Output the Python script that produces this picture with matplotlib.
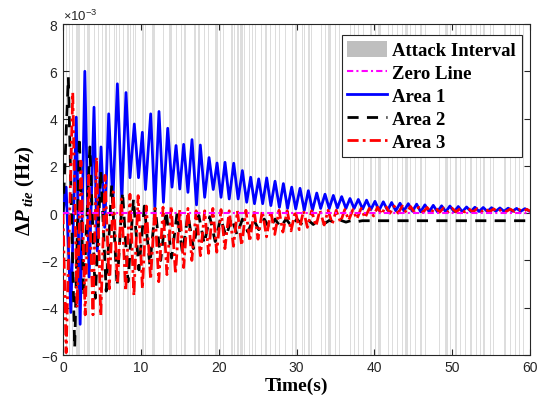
import matplotlib
matplotlib.use("Agg")
import matplotlib.pyplot as plt
from matplotlib.patches import Patch
from matplotlib.ticker import ScalarFormatter

plt.rcParams['mathtext.fontset'] = 'custom'
plt.rcParams['mathtext.rm'] = 'Liberation Serif:bold'
plt.rcParams['mathtext.it'] = 'Liberation Serif:italic:bold'
plt.rcParams['mathtext.bf'] = 'Liberation Serif:bold'

# attack intervals (start time, duration) in s
attack_start = [0.42, 0.81, 1.2, 1.7, 2.1, 2.74, 3.08, 3.38, 4.02, 4.54, 5.0, 5.4, 5.9, 6.5, 6.85,
                7.2, 7.67, 8.22, 8.65, 8.96, 9.3, 9.7, 10.15, 10.5, 11.0, 11.4, 11.7, 12.3, 12.9,
                13.3, 13.66, 14.1, 14.5, 14.85, 15.2, 15.6, 16.0, 16.4, 16.8, 17.4, 17.8, 18.15,
                18.6, 19.1, 19.5, 20.2, 20.5, 20.9, 21.3, 21.6, 22.0, 22.4, 22.8, 23.3, 23.9,
                24.3, 24.7, 25.4, 26.0, 26.6, 27.2, 27.8, 28.5, 29.0, 29.4, 29.8, 30.3, 30.7,
                30.9, 31.5, 31.9, 32.6, 33.2, 33.7, 34.1, 34.5, 35.0, 35.4, 36.2, 36.9, 37.4,
                37.9, 38.6, 39.0, 39.5, 40.1, 40.5, 41.2, 41.8, 42.3, 42.9, 43.5, 44.0, 44.6,
                45.2, 45.9, 46.5, 47.1, 47.6, 48.3, 49.1, 49.7, 50.4, 51.0, 51.7, 52.3, 53.0,
                53.6, 54.0, 54.9, 55.3, 55.7, 56.6, 57.0, 57.4, 58.1, 58.6, 59.1]
attack_len = [0.15, 0.1, 0.08, 0.3, 0.12, 0.1, 0.2, 0.1, 0.15, 0.1, 0.08, 0.3, 0.08, 0.2, 0.1,
              0.08, 0.15, 0.3, 0.1, 0.15, 0.1, 0.08, 0.2, 0.1, 0.08, 0.3, 0.15, 0.08, 0.1,
              0.08, 0.3, 0.08, 0.12, 0.1, 0.08, 0.15, 0.1, 0.08, 0.3, 0.2, 0.08, 0.1,
              0.15, 0.08, 0.4, 0.1, 0.15, 0.1, 0.08, 0.2, 0.08, 0.15, 0.3, 0.1, 0.15,
              0.08, 0.1, 0.2, 0.15, 0.1, 0.2, 0.08, 0.1, 0.08, 0.15, 0.3, 0.08, 0.1,
              0.15, 0.2, 0.1, 0.08, 0.08, 0.15, 0.3, 0.1, 0.08, 0.2, 0.08, 0.15, 0.08,
              0.1, 0.08, 0.08, 0.2, 0.08, 0.3, 0.08, 0.1, 0.08, 0.15, 0.2, 0.3, 0.08,
              0.1, 0.2, 0.15, 0.08, 0.1, 0.08, 0.3, 0.15, 0.2, 0.08, 0.1, 0.3, 0.15,
              0.1, 0.2, 0.15, 0.08, 0.1, 0.3, 0.08, 0.2, 0.15, 0.08, 0.1]

# Area 1 extrema (x1e-3)
t1 = [0, 0.4, 1.0, 1.7, 2.2, 2.8, 3.35, 3.98, 4.4, 4.88, 5.35, 5.87, 6.4, 6.98, 7.55, 8.09,
      8.6, 9.16, 9.7, 10.19, 10.6, 11.26, 11.8, 12.33, 12.9, 13.45, 14.0, 14.52, 15.0, 15.5,
      16.05, 16.57, 17.15, 17.64, 18.2, 18.76, 19.3, 19.79, 20.3, 20.81, 21.35, 21.93, 22.5,
      23.04, 23.6, 24.11, 24.6, 25.14, 25.65, 26.17, 26.7, 27.24, 27.8, 28.31, 28.85, 29.38,
      29.9, 30.45, 31.0, 31.52, 32.05, 32.6, 33.1, 33.66, 34.2, 34.73, 35.25, 35.8, 36.35,
      36.87, 37.4, 37.94, 38.5, 39.0, 39.55, 40.08, 40.6, 41.15, 41.7, 42.22, 42.75, 43.3,
      43.8, 44.36, 44.9, 45.43, 45.95, 46.5, 47.04, 47.57, 48.1, 48.64, 49.17, 49.71, 50.25,
      50.78, 51.3, 51.85, 52.4, 52.92, 53.45, 53.99, 54.5, 55.06, 55.6, 56.13, 56.65, 57.2,
      57.75, 58.27, 58.8, 59.34, 59.9]
area1 = [0, 1.1, -4.2, 4.06, -4.7, 6.0, -2.7, 4.48, -1.6, 2.8, -0.6, 4.2, 0.45, 5.47, 0.6, 5.1,
         1.5, 3.77, 1.5, 3.42, 1.0, 4.2, 0.25, 4.3, 0.46, 3.59, 1.1, 2.86, 1.02, 2.91,
         0.88, 3.11, 0.35, 2.88, 0.67, 2.35, 1.0, 2.12, 0.67, 2.15, 0.6, 2.11, 0.6,
         1.8, 0.46, 1.52, 0.4, 1.45, 0.4, 1.49, 0.32, 1.35, 0.25, 1.25, 0.2, 1.1,
         0.18, 1.05, 0.12, 0.95, 0.12, 0.85, 0.2, 0.8, 0.2, 0.75, 0.22, 0.7, 0.2,
         0.62, 0.2, 0.58, 0.18, 0.55, 0.15, 0.5, 0.12, 0.48, 0.12, 0.45, 0.1, 0.42,
         0.1, 0.4, 0.08, 0.38, 0.06, 0.35, 0.06, 0.33, 0.06, 0.31, 0.06, 0.3, 0.06,
         0.28, 0.06, 0.26, 0.07, 0.25, 0.07, 0.24, 0.07, 0.23, 0.08, 0.22, 0.08, 0.21,
         0.08, 0.2, 0.08, 0.19, 0.09]

# Area 2 extrema (x1e-3)
t2 = [0, 0.68, 1.5, 2.1, 2.65, 3.45, 4.15, 4.85, 5.55, 6.25, 6.95, 7.65, 8.35, 9.05, 9.75,
      10.45, 11.15, 11.85, 12.55, 13.25, 13.95, 14.65, 15.35, 16.05, 16.75, 17.45, 18.15,
      18.85, 19.55, 20.25, 20.95, 21.65, 22.35, 23.05, 23.75, 24.45, 25.15, 25.85, 26.55,
      27.25, 27.95, 28.65, 29.35, 30.05, 30.75, 31.45, 32.15, 32.85, 33.55, 34.25, 34.95,
      35.65, 36.35, 37.05, 37.75, 38.45, 60]
area2 = [0, 5.75, -5.7, 3.2, -3.5, 2.8, -3.6, 1.8, -3.3, 1.2, -3.1, 0.9, -2.9, 0.6, -2.4,
         0.3, -2.2, 0.2, -2.0, 0.1, -1.9, 0.0, -1.7, -0.05, -1.5, -0.1, -1.3,
         -0.15, -1.2, -0.2, -1.0, -0.2, -0.9, -0.25, -0.8, -0.25, -0.7, -0.25, -0.65,
         -0.25, -0.6, -0.25, -0.55, -0.25, -0.5, -0.28, -0.48, -0.28, -0.45, -0.3, -0.42,
         -0.3, -0.38, -0.31, -0.36, -0.32, -0.32]

# Area 3 extrema (x1e-3)
t3 = [0, 0.4, 1.25, 1.8, 2.3, 2.85, 3.3, 3.85, 4.3, 4.85, 5.4, 5.95, 6.45, 7.0, 7.5, 8.05,
      8.6, 9.1, 9.65, 10.2, 10.7, 11.25, 11.8, 12.3, 12.85, 13.35, 13.9, 14.45, 15.0, 15.5,
      16.05, 16.55, 17.1, 17.65, 18.2, 18.7, 19.25, 19.75, 20.3, 20.8, 21.35, 21.9, 22.4,
      22.95, 23.5, 24.0, 24.55, 25.05, 25.6, 26.15, 26.7, 27.2, 27.75, 28.25, 28.8, 29.3,
      29.85, 30.35, 30.9, 31.4, 31.95, 32.5, 33.0, 33.55, 34.05, 34.6, 35.1, 35.65, 36.2,
      36.7, 37.25, 37.75, 38.3, 38.8, 39.35, 39.9, 40.4, 40.95, 41.45, 42.0, 42.55, 43.05,
      43.6, 44.1, 44.65, 45.15, 45.7, 46.25, 46.78, 47.3, 47.85, 48.38, 48.9, 49.45, 49.98,
      50.5, 51.05, 51.58, 52.1, 52.65, 53.2, 53.72, 54.25, 54.8, 55.33, 55.85, 56.4, 56.93,
      57.45, 58.0, 58.53, 59.06, 59.6, 60]
area3 = [0, -5.9, 5.1, -4.0, 2.2, -4.3, 1.6, -4.3, 2.36, -4.34, 1.6, -3.2, 0.9, -3.0, 0.6, -3.3,
         0.8, -3.49, 0.74, -3.2, 0.3, -2.8, 0.2, -2.9, 0.25, -2.6, 0.3, -2.57, 0.15, -2.3,
         0.2, -2.0, 0.1, -1.8, 0.1, -1.7, 0.2, -1.65, 0.15, -1.5, 0.1, -1.4, 0.1,
         -1.37, 0.12, -1.2, 0.1, -1.1, 0.1, -1.0, 0.1, -0.9, 0.12, -0.8, 0.1, -0.75,
         0.1, -0.7, 0.1, -0.6, 0.1, -0.55, 0.12, -0.5, 0.12, -0.45, 0.12, -0.38, 0.15,
         -0.3, 0.15, -0.25, 0.2, -0.2, 0.2, -0.12, 0.25, -0.05, 0.3, 0.0, 0.3, 0.0,
         0.3, 0.02, 0.28, 0.03, 0.25, 0.03, 0.24, 0.03, 0.23, 0.04, 0.22, 0.04, 0.21,
         0.05, 0.2, 0.05, 0.19, 0.05, 0.19, 0.06, 0.18, 0.06, 0.18, 0.06, 0.17, 0.07,
         0.17, 0.07, 0.16, 0.07, 0.16, 0.08]

x_ticks = [0, 10, 20, 30, 40, 50, 60]
y_ticks = [-6, -4, -2, 0, 2, 4, 6, 8]

fig = plt.figure(figsize=(5.41, 4.02), dpi=100)
ax = fig.add_axes([0.1165, 0.1144, 0.8632, 0.8234])

for s, d in zip(attack_start, attack_len):
	ax.axvspan(s, s + d, color='#bdbdbd', alpha=0.5, lw=0, zorder=1)

ax.plot(t1, [v*1e-3 for v in area1], color='#0000ff', lw=2, zorder=3)
ax.plot(t2, [v*1e-3 for v in area2], color='black', lw=2, ls=(0, (4, 3)), zorder=4)
ax.plot(t3, [v*1e-3 for v in area3], color='#ff0000', lw=2, ls=(0, (4, 1.5, 1, 1.5)), zorder=5)
ax.plot([0, 60], [0, 0], color='#ff00ff', lw=1.5, ls=(0, (3, 1.5, 1, 1.5)), zorder=6)

ax.set_xlim(0, 60)
ax.set_ylim(-6e-3, 8e-3)
ax.set_xticks(x_ticks)
ax.set_yticks([v*1e-3 for v in y_ticks])
fmt = ScalarFormatter(useMathText=True)
fmt.set_powerlimits((-3, -3))
ax.yaxis.set_major_formatter(fmt)
ax.yaxis.get_offset_text().set_fontsize(9.5)
ax.yaxis.get_offset_text().set_color('#262626')
ax.yaxis.get_offset_text().set_family('Liberation Sans')

ax.tick_params(direction='in', top=True, right=True, length=4, width=0.8,
               labelsize=10, colors='#262626')
for lab in ax.get_xticklabels() + ax.get_yticklabels():
	lab.set_family('Liberation Sans')
for sp in ax.spines.values():
	sp.set_color('#262626')
	sp.set_linewidth(0.8)

ax.set_xlabel('Time(s)', fontfamily='Liberation Serif', fontweight='bold', fontsize=14, labelpad=2)
ax.set_ylabel(r'$\Delta\mathit{P}_{\ \mathit{tie}}$ (Hz)', fontfamily='Liberation Serif',
              fontweight='bold', fontsize=15, labelpad=3)

handles = [Patch(facecolor='#bfbfbf', edgecolor='none'),
           plt.Line2D([], [], color='#ff00ff', lw=1.5, ls=(0, (3, 1.5, 1, 1.5))),
           plt.Line2D([], [], color='#0000ff', lw=2),
           plt.Line2D([], [], color='black', lw=2, ls=(0, (4, 3))),
           plt.Line2D([], [], color='#ff0000', lw=2, ls=(0, (4, 1.5, 1, 1.5)))]
labels = ['Attack Interval', 'Zero Line', 'Area 1', 'Area 2', 'Area 3']
leg = ax.legend(handles, labels, loc='upper right', bbox_to_anchor=(0.9825, 0.967),
                prop={'family': 'Liberation Serif', 'weight': 'bold', 'size': 13.5},
                fancybox=False, framealpha=1, edgecolor='#262626', handlelength=2.1,
                handleheight=1.0, handletextpad=0.3, labelspacing=0.22, borderpad=0.3,
                borderaxespad=0)
leg.get_frame().set_linewidth(0.8)
leg.set_zorder(10)

fig.savefig('out.png', dpi=100)
